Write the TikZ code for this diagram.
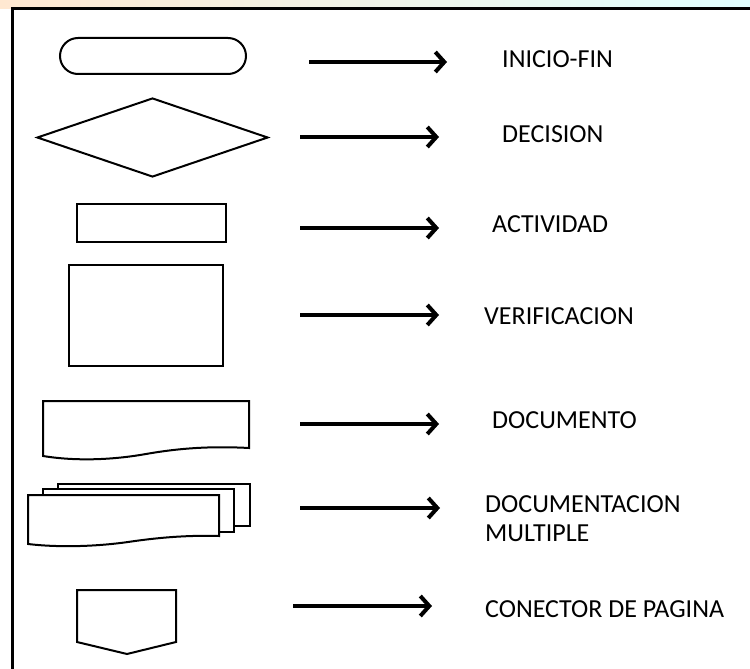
\documentclass[tikz,border=0pt]{standalone}
\usepackage{fontspec}
\setmainfont{Carlito}
\usetikzlibrary{arrows.meta, shapes.geometric}
\tikzset{
  every picture/.style={x=1pt, y=-1pt},
  shp/.style={draw, line width=2pt, fill=white, inner sep=0pt},
  arrow/.style={-{Straight Barb[length=9pt, width=20pt]}, line width=4pt},
  lbl/.style={font=\fontsize{26}{29}\selectfont, anchor=base west, align=left, inner sep=0pt},
  frame/.style={line width=3pt},
}
\begin{document}
\begin{tikzpicture}[
  term/.style={shp, rounded corners=18pt, minimum width=186pt, minimum height=36pt},
  dec/.style={shp, diamond, minimum width=231pt, minimum height=79pt},
  act/.style={shp, minimum width=149pt, minimum height=38pt},
  ver/.style={shp, minimum width=154pt, minimum height=101pt}]
  \useasboundingbox (0,0) rectangle (750,669);
  % faint strip above the frame
  \shade[left color=orange!18, right color=cyan!12] (0,0) rectangle (750,9);
  \fill[white] (12,9) rectangle (750,669);
  \draw[frame] (12,9) rectangle (770,690);
  % symbols
  \node[term] (inicio) at (153,56) {};
  \node[dec] (decision) at (152.5,137.5) {};
  \node[act] (actividad) at (151.5,223) {};
  \node[ver] (verif) at (146,315.5) {};
  % documento
  \draw[shp] (43,401) -- (249,401) -- (249,448)
    .. controls (212,446) and (180,448) .. (146,454)
    .. controls (118,459) and (80,462) .. (43,456) -- cycle;
  % documentacion multiple
  \draw[shp] (58,484) rectangle (250,526);
  \draw[shp] (43,489) rectangle (234,532);
  \draw[shp] (28,495) -- (219,495) -- (219,536)
    .. controls (185,535) and (155,538) .. (128,542)
    .. controls (100,546) and (62,548) .. (28,544) -- cycle;
  % conector de pagina
  \draw[shp] (77,590) -- (176,590) -- (176,642) -- (127,654) -- (77,642) -- cycle;
  % arrows
  \coordinate (a1) at (309,62);  \coordinate (b1) at (447,62);
  \coordinate (a2) at (300,137); \coordinate (b2) at (439,137);
  \coordinate (a3) at (300,228); \coordinate (b3) at (439,228);
  \coordinate (a4) at (300,315); \coordinate (b4) at (439,315);
  \coordinate (a5) at (300,424); \coordinate (b5) at (439,424);
  \coordinate (a6) at (300,508); \coordinate (b6) at (440,508);
  \coordinate (a7) at (293,606); \coordinate (b7) at (432,606);
  \foreach \i in {1,...,7}
    \draw[arrow] (a\i) -- (b\i);
  % labels
  \node[lbl] (l1) at (502,67) {INICIO-FIN};
  \node[lbl] (l2) at (502,142) {DECISION};
  \node[lbl] (l3) at (492,232) {ACTIVIDAD};
  \node[lbl] (l4) at (484,324) {VERIFICACION};
  \node[lbl] (l5) at (492,428) {DOCUMENTO};
  \node[lbl] (l6) at (485,541) {DOCUMENTACION\\MULTIPLE};
  \node[lbl] (l7) at (485,617) {CONECTOR DE PAGINA};
\end{tikzpicture}
\end{document}
